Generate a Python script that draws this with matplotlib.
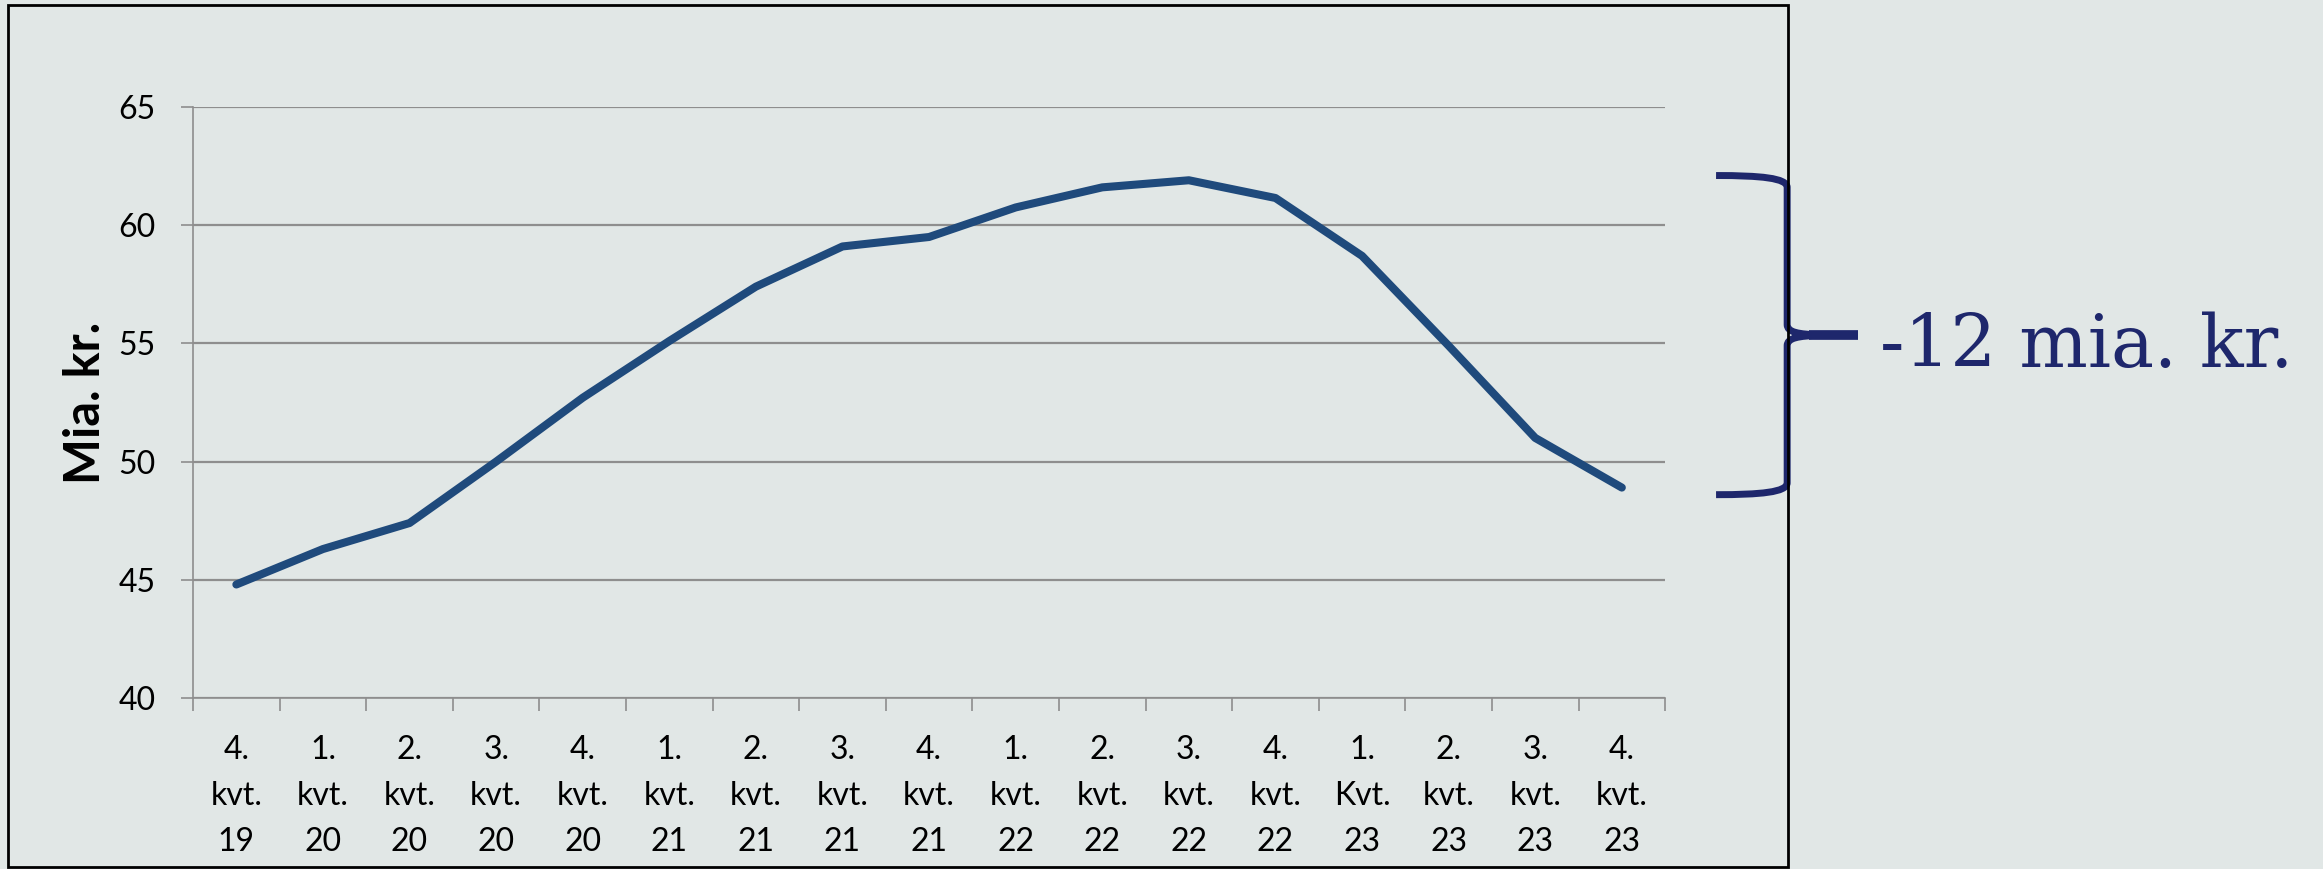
import numpy as np
import matplotlib.pyplot as plt
from matplotlib.path import Path
from matplotlib.patches import PathPatch, Rectangle
from matplotlib import transforms

# quarterly values, mia. kr.
quarters = ["4.\nkvt.\n19", "1.\nkvt.\n20", "2.\nkvt.\n20", "3.\nkvt.\n20", "4.\nkvt.\n20",
            "1.\nkvt.\n21", "2.\nkvt.\n21", "3.\nkvt.\n21", "4.\nkvt.\n21",
            "1.\nkvt.\n22", "2.\nkvt.\n22", "3.\nkvt.\n22", "4.\nkvt.\n22",
            "1.\nKvt.\n23", "2.\nkvt.\n23", "3.\nkvt.\n23", "4.\nkvt.\n23"]
values = [44.8, 46.3, 47.4, 50.0, 52.7, 55.1, 57.4, 59.1, 59.5,
          60.75, 61.6, 61.9, 61.15, 58.7, 54.9, 51.0, 48.9]
yticks = [40, 45, 50, 55, 60, 65]
note = "-12 mia. kr."

BG = "#e1e7e6"
LINE = "#1f4a7c"
NAVY = "#1e276c"
GRID = "#8e8e8e"

fig = plt.figure(figsize=(23.23, 8.69), dpi=100, facecolor=BG)
ax = fig.add_axes([0.0831, 0.1968, 0.6337, 0.6801])
ax.set_facecolor(BG)

x = np.arange(len(values))
ax.plot(x, values, color=LINE, lw=5.8, solid_capstyle="round", solid_joinstyle="round", zorder=3)

ax.set_xlim(-0.5, len(values) - 0.5)
ax.set_ylim(yticks[0], yticks[-1])
ax.set_yticks(yticks)
ax.set_xticks(x)
ax.set_xticklabels(quarters, linespacing=1.65)
ax.set_xticks(np.arange(len(values) + 1) - 0.5, minor=True)

ax.grid(axis="y", color=GRID, lw=1.6, zorder=1)
for side in ["top", "right"]:
    ax.spines[side].set_visible(False)
for side in ["left", "bottom"]:
    ax.spines[side].set_color(GRID)
    ax.spines[side].set_linewidth(1.2)

ax.tick_params(axis="x", which="major", length=0, pad=27, labelsize=23)
ax.tick_params(axis="x", which="minor", length=9, width=1.2, color=GRID)
ax.tick_params(axis="y", length=9, width=1.2, color=GRID, pad=18, labelsize=23)
for lab in ax.get_xticklabels() + ax.get_yticklabels():
    lab.set_fontfamily("Lato")

ax.set_ylabel("Mia. kr.", fontsize=35, fontweight="bold", fontfamily="Lato")
ax.yaxis.set_label_coords(-0.058, 0.5)

# curly bracket spanning peak to last quarter
trans = transforms.blended_transform_factory(ax.transAxes, ax.transData)
ytop = max(values) + 0.2
ybot = values[-1] - 0.3
ymid = (ytop + ybot) / 2
xe, xs, xt = 1.0346, 1.0829, 1.1311
verts = [
    (xe, ytop), (xe + 0.03, ytop), (xs, ytop - 0.1), (xs, ytop - 0.5),
    (xs, ymid + 0.45),
    (xs, ymid + 0.1), (xs + 0.008, ymid + 0.05), (xs + 0.022, ymid),
    (xs + 0.008, ymid - 0.05), (xs, ymid - 0.1), (xs, ymid - 0.45),
    (xs, ybot + 0.5),
    (xs, ybot + 0.1), (xe + 0.03, ybot), (xe, ybot),
]
codes = [Path.MOVETO, Path.CURVE4, Path.CURVE4, Path.CURVE4,
         Path.LINETO,
         Path.CURVE4, Path.CURVE4, Path.CURVE4,
         Path.CURVE4, Path.CURVE4, Path.CURVE4,
         Path.LINETO,
         Path.CURVE4, Path.CURVE4, Path.CURVE4]
ax.add_patch(PathPatch(Path(verts, codes), transform=trans, fill=False,
                       edgecolor=NAVY, lw=5, clip_on=False, zorder=5,
                       capstyle="butt", joinstyle="round"))
ax.plot([xs + 0.015, xt], [ymid, ymid], transform=trans, color=NAVY, lw=7,
        clip_on=False, solid_capstyle="butt", zorder=5)
ax.text(1.146, ymid - 1.35, note, transform=trans, ha="left", va="baseline",
        fontsize=52, fontfamily="DejaVu Serif", color=NAVY)

# frame around the chart area
fig.patches.append(Rectangle((0.0034, 0.002), 0.7663, 0.9922, transform=fig.transFigure,
                             fill=False, edgecolor="black", lw=2, zorder=0))

fig.savefig("out.png", dpi=100, facecolor=BG)
